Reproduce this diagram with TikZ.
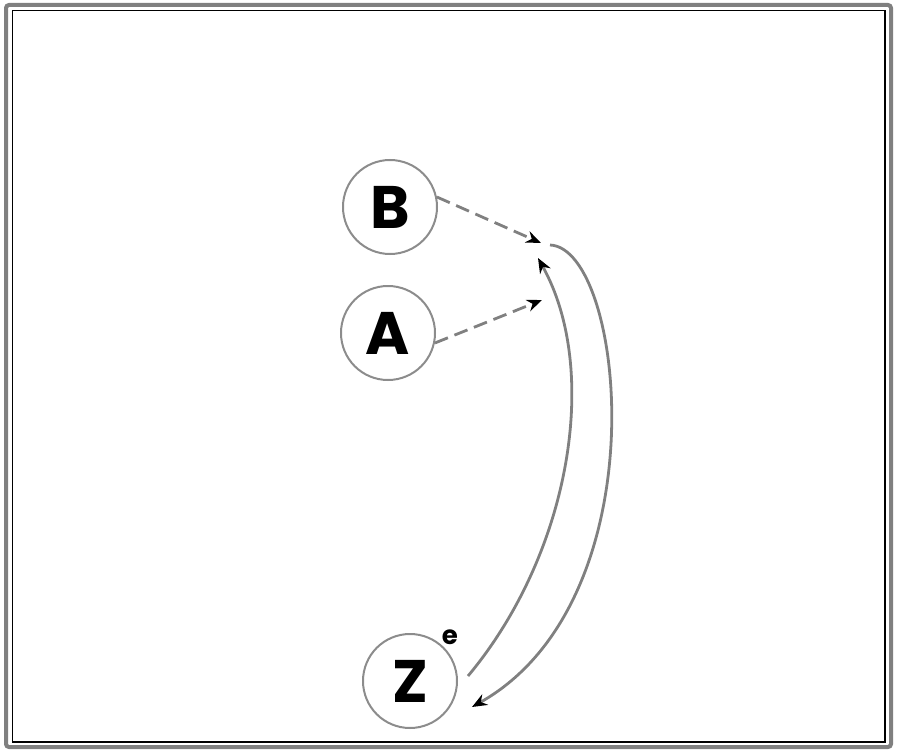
\documentclass[tikz,border=0pt]{standalone}
\usepackage{fontspec}
\setmainfont{Poppins}[BoldFont={* Bold}]
\usetikzlibrary{arrows.meta}
\tikzset{
  vnode/.style={circle,draw=black!45,line width=2pt,minimum size=94pt,inner sep=0pt,font=\fontsize{60}{60}\selectfont\bfseries},
  conn/.style={draw=black!50,line width=2.8pt,-{Stealth[length=15pt,width=12pt,color=black,fill=black]}},
  dconn/.style={conn,dash pattern=on 14pt off 7pt},
}
\begin{document}
\begin{tikzpicture}[x=1pt,y=-1pt]
\useasboundingbox (0,0) rectangle (900,752);
\draw[black!50,line width=4pt,rounded corners=3pt] (6,5) rectangle (891,747);
\draw[black,line width=1.2pt] (12.5,10.5) rectangle (885,742);
\node[vnode] (B) at (390,207) {B};
\node[vnode] (A) at (388,333) {A};
\node[vnode] (Z) at (410,681) {Z};
\node[font=\fontsize{26}{26}\selectfont\bfseries,inner sep=0pt] (e) at (450,637) {e};
\coordinate (m1) at (541,243);
\coordinate (m2) at (542,300);
\coordinate (c1) at (550,245);
\coordinate (c2) at (538,258);
\coordinate (za) at (468,676);
\coordinate (zb) at (472,707);
\draw[dconn] (B.12) -- (m1);
\draw[dconn] (A.-12) -- (m2);
\draw[conn] (c1) .. controls (625,248) and (662,600) .. (zb);
\draw[conn] (za) .. controls (570,554) and (601,371) .. (c2);
\end{tikzpicture}
\end{document}
